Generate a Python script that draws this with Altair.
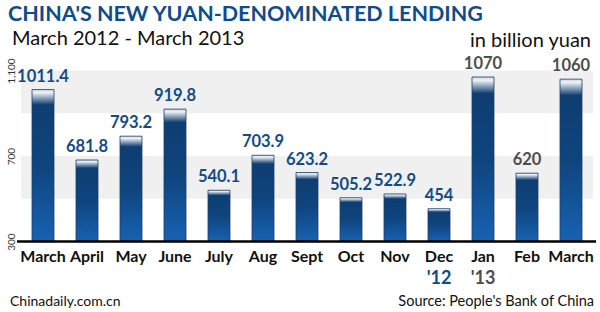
import altair as alt
import pandas as pd

# ---- data ----
months = ["March", "April", "May", "June", "July", "Aug", "Sept", "Oct",
          "Nov", "Dec", "Jan", "Feb", "March"]
values = [1011.4, 681.8, 793.2, 919.8, 540.1, 703.9, 623.2, 505.2,
          522.9, 454, 1070, 620, 1060]
value_labels = ["1011.4", "681.8", "793.2", "919.8", "540.1", "703.9", "623.2",
                "505.2", "522.9", "454", "1070", "620", "1060"]
years = ["2012"] * 10 + ["2013"] * 3
year_marker_idx = [9, 10]
year_marker_text = ["'12", "'13"]
year_marker_year = ["2012", "2013"]
band_lo = [500, 900]
band_hi = [700, 1100]
y_ticks = [300, 700, 1100]

title = "CHINA'S NEW YUAN-DENOMINATED  LENDING"
subtitle = "March 2012 - March 2013"
unit = "in billion yuan"
credit = "Chinadaily.com.cn"
source = "Source: People's Bank of China"

BLUE = "#114b8a"
GRAY = "#4d4d4d"
FONT = "Lato"

df = pd.DataFrame({"idx": list(range(len(months))), "value": values,
                   "label": value_labels, "year": years})
bands = pd.DataFrame({"lo": band_lo, "hi": band_hi})
markers = pd.DataFrame({"idx": year_marker_idx, "t": year_marker_text,
                        "year": year_marker_year})
base_df = pd.DataFrame({"v": [300]})

W, H = 572, 171
label_expr = "[" + ",".join("'" + m + "'" for m in months) + "][datum.value]"

x_scale = alt.Scale(paddingInner=0.5, paddingOuter=0.25)
y_scale = alt.Scale(domain=[300, 1100], nice=False, zero=False)
color_scale = alt.Scale(domain=["2012", "2013"], range=[BLUE, GRAY])

x_axis = alt.Axis(labelExpr=label_expr, title=None, domain=False, ticks=False,
                  labelFont=FONT, labelFontSize=16, labelFontWeight="bold",
                  labelColor="#111111", labelAngle=0, labelBaseline="alphabetic",
                  labelPadding=20)
y_axis = alt.Axis(values=y_ticks, title=None, domain=False, ticks=False, grid=False,
                  labelFont=FONT, labelFontSize=10, labelColor="#333333",
                  labelAngle=270, labelAlign="center", labelBaseline="bottom",
                  labelPadding=5, labelFlush=False, labelOverlap=False)

band_layer = alt.Chart(bands).mark_rect(color="#f0f0f0").encode(
    y=alt.Y("lo:Q", scale=y_scale, axis=y_axis),
    y2="hi:Q",
    x=alt.value(0), x2=alt.value(W),
)

gradient = alt.Gradient(
    gradient="linear", x1=0, y1=0, x2=0, y2=1,
    stops=[
        alt.GradientStop(color="#c9d5e2", offset=0.0),
        alt.GradientStop(color="#eef2f6", offset=0.02),
        alt.GradientStop(color="#0e3e72", offset=0.10),
        alt.GradientStop(color="#0f447e", offset=0.5),
        alt.GradientStop(color="#1862b2", offset=1.0),
    ],
)

bars = alt.Chart(df).mark_bar(fill=gradient, stroke="#1e3d62", strokeWidth=0.8).encode(
    x=alt.X("idx:O", scale=x_scale, axis=x_axis),
    y=alt.Y("value:Q", scale=y_scale),
    y2=alt.datum(300),
)

value_text = alt.Chart(df).mark_text(font=FONT, fontSize=16.5, fontWeight="bold",
                                     baseline="alphabetic", dy=-8).encode(
    x=alt.X("idx:O", scale=x_scale),
    y=alt.Y("value:Q", scale=y_scale),
    text="label:N",
    color=alt.Color("year:N", scale=color_scale, legend=None),
)

marker_text = alt.Chart(markers).mark_text(font=FONT, fontSize=18, fontWeight="bold",
                                           baseline="alphabetic").encode(
    x=alt.X("idx:O", scale=x_scale),
    y=alt.value(213),
    text="t:N",
    color=alt.Color("year:N", scale=color_scale, legend=None),
)

baseline = alt.Chart(base_df).mark_rule(color="#000000", strokeWidth=2.5).encode(
    y=alt.Y("v:Q", scale=y_scale), x=alt.value(-4), x2=alt.value(W + 3),
)


def txt(s, x, y, size, color, weight="normal", align="left"):
    return alt.Chart(pd.DataFrame({"t": [s]})).mark_text(
        font=FONT, fontSize=size, fontWeight=weight, color=color,
        align=align, baseline="alphabetic").encode(
        text="t:N", x=alt.value(x), y=alt.value(y))


title_t = txt(title, -13, -50, 21.5, "#0f4c8c", "bold")
sub_t = txt(subtitle, -9, -26, 20, "#111111")
unit_t = txt(unit, 570, -24, 20, "#111111", align="right")
credit_t = txt(credit, -11, 235, 14, "#111111")
source_t = txt(source, 573, 235, 14.5, "#111111", align="right")

chart = alt.layer(
    band_layer, bars, baseline, value_text, marker_text,
    title_t, sub_t, unit_t, credit_t, source_t,
).resolve_scale(color="shared").properties(
    width=W, height=H,
    autosize=alt.AutoSizeParams(type="none"),
    padding={"left": 21, "top": 70.6, "right": 7, "bottom": 70.4},
    background="white",
).configure_view(stroke=None)

chart.save("out.html", embed_options={"renderer": "svg", "actions": False})
